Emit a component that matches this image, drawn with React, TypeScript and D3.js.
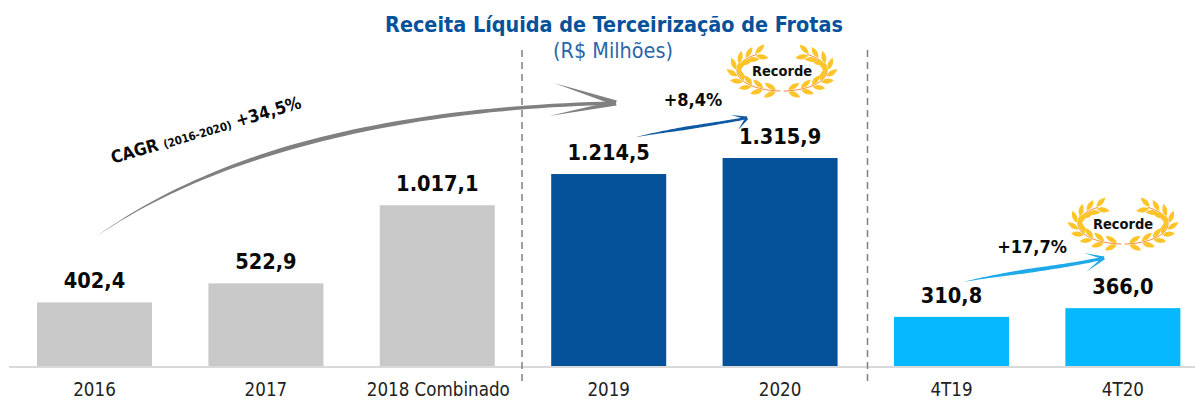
import React from 'react';
import * as d3 from 'd3';

const categories = ['2016', '2017', '2018 Combinado', '2019', '2020', '4T19', '4T20'];
const values = [402.4, 522.9, 1017.1, 1214.5, 1315.9, 310.8, 366.0];
const valueLabels = ['402,4', '522,9', '1.017,1', '1.214,5', '1.315,9', '310,8', '366,0'];
const barColors = ['#c9c9c9', '#c9c9c9', '#c9c9c9', '#05529b', '#05529b', '#06b8ff', '#06b8ff'];

const WIDTH = 1195;
const HEIGHT = 400;
const BASE = 366;
const FONT = "'DejaVu Sans Condensed', 'DejaVu Sans', sans-serif";

const x = d3.scaleBand().domain(categories).range([37, 1180.4]).paddingInner(0.329).paddingOuter(0);
const y = d3.scaleLinear().domain([0, 1315.9]).range([BASE, 158]);

type Pt = [number, number];

const polygon = d3.line().curve(d3.curveLinearClosed);

function cubic(p: Pt[], t: number): Pt {
  const u = 1 - t;
  const a = u * u * u, b = 3 * u * u * t, c = 3 * u * t * t, d = t * t * t;
  return [a * p[0][0] + b * p[1][0] + c * p[2][0] + d * p[3][0], a * p[0][1] + b * p[1][1] + c * p[2][1] + d * p[3][1]];
}

// tapered brush-like shaft from a bezier centre line
function shaft(p: Pt[], width: (t: number) => number) {
  const ts = d3.range(0, 1.001, 0.02);
  const pts = ts.map(t => cubic(p, t));
  const left: Pt[] = [];
  const right: Pt[] = [];
  pts.forEach((q, i) => {
    const a = pts[Math.max(0, i - 1)];
    const b = pts[Math.min(pts.length - 1, i + 1)];
    const dx = b[0] - a[0], dy = b[1] - a[1];
    const len = Math.hypot(dx, dy) || 1;
    const w = width(ts[i]) / 2;
    left.push([q[0] - (dy / len) * w, q[1] + (dx / len) * w]);
    right.push([q[0] + (dy / len) * w, q[1] - (dx / len) * w]);
  });
  return polygon(left.concat(right.reverse())) as string;
}

function barb(from: Pt, tip: Pt, w: number) {
  const dx = tip[0] - from[0], dy = tip[1] - from[1];
  const len = Math.hypot(dx, dy);
  const nx = (-dy / len) * w / 2, ny = (dx / len) * w / 2;
  return polygon([from, [tip[0] + nx, tip[1] + ny], tip, [tip[0] - nx, tip[1] - ny]]) as string;
}

function Arrow({ curve, barbs, color, w, barbW }: { curve: Pt[]; barbs: Pt[]; color: string; w: number; barbW: number }) {
  const tip = curve[3];
  return (
    <g fill={color}>
      <path d={shaft(curve, t => w * Math.min(1, t * 2.2 + 0.02) * (1 - 0.4 * t))} />
      {barbs.map((b, i) => <path key={i} d={barb(b, tip, barbW)} />)}
    </g>
  );
}

function Laurel({ cx, cy }: { cx: number; cy: number }) {
  const rx = 45;
  const ry = 20;
  const angles = d3.range(8, 156, 17);
  const stem = d3.range(2, 150, 4).map(a => {
    const r = (a * Math.PI) / 180;
    return [Math.sin(r) * rx, Math.cos(r) * ry] as Pt;
  });
  const line = d3.line();
  const side = angles.flatMap((a, i) => {
    const r = (a * Math.PI) / 180;
    const px = Math.sin(r) * rx;
    const py = Math.cos(r) * ry;
    // tangent heading towards the top of the wreath
    const tx = Math.cos(r) * rx, ty = -Math.sin(r) * ry;
    const len = Math.hypot(tx, ty);
    const deg = (Math.atan2(ty, tx) * 180) / Math.PI;
    return [-1, 1].map(s => {
      const tilt = deg + s * 28;
      return (
        <path
          key={`${i}${s}`}
          transform={`translate(${px + (s * -ty) / len},${py + (s * tx) / len}) rotate(${tilt})`}
          d="M0,0 Q6,-5 13,0 Q6,5 0,0Z"
          fill="#fdc529"
        />
      );
    });
  });
  return (
    <g transform={`translate(${cx},${cy + 1})`}>
      {[1, -1].map(s => (
        <g key={s} transform={`scale(${s},1)`}>
          <path d={line(stem) as string} fill="none" stroke="#f58b3e" strokeWidth={1} />
          {side}
        </g>
      ))}
      <text y={5} textAnchor="middle" fontFamily={FONT} fontWeight="bold" fontSize={14.5} fill="#111">Recorde</text>
    </g>
  );
}

export default function App() {
  return (
    <svg width={WIDTH} height={HEIGHT} style={{ position: 'absolute', left: 0, top: 0, background: '#fff' }}>
      <text x={614} y={32} textAnchor="middle" fontFamily={FONT} fontWeight="bold" fontSize={21.4} fill="#05529b">
        Receita Líquida de Terceirização de Frotas
      </text>
      <text x={613} y={58} textAnchor="middle" fontFamily={FONT} fontSize={21.4} fill="#2a66a8">(R$ Milhões)</text>

      {categories.map((c, i) => (
        <rect key={c} x={x(c)} y={y(values[i])} width={x.bandwidth()} height={BASE - y(values[i])} fill={barColors[i]} />
      ))}
      <line x1={9} x2={WIDTH} y1={367} y2={367} stroke="#d9d9d9" strokeWidth={2} />

      {[522, 867.5].map(d => (
        <line key={d} x1={d} x2={d} y1={50} y2={385} stroke="#808080" strokeWidth={1.5} strokeDasharray="7 5" />
      ))}

      {categories.map((c, i) => (
        <text key={c} x={(x(c) as number) + x.bandwidth() / 2 + (i === 2 ? 1 : 0)} y={395.5} textAnchor="middle" fontFamily={FONT} fontSize={18.6} fill="#222">
          {c}
        </text>
      ))}
      {categories.map((c, i) => (
        <text
          key={c}
          x={(x(c) as number) + x.bandwidth() / 2}
          y={y(values[i]) - 14}
          textAnchor="middle"
          fontFamily={FONT}
          fontWeight="bold"
          fontSize={21.6}
          fill="#0a0a0a"
        >
          {valueLabels[i]}
        </text>
      ))}

      <Arrow curve={[[97, 236], [220, 150], [400, 108], [616, 103]]} barbs={[[554, 83], [549, 116]]} color="#808080" w={5.5} barbW={5} />
      <Arrow curve={[[636, 137], [670, 130], [710, 125], [747, 118]]} barbs={[[731, 115], [738, 130]]} color="#0f5aa3" w={4} barbW={3} />
      <Arrow curve={[[963, 282], [1010, 272], [1060, 268], [1104, 258]]} barbs={[[1084, 253], [1086, 272]]} color="#1ea9e8" w={5} barbW={3} />

      <g transform="rotate(-16.5 206 130)" fontFamily={FONT} fontWeight="bold" fill="#0a0a0a">
        <text x={206} y={136} textAnchor="middle" fontSize={17.4}>
          CAGR <tspan fontSize={11.4}>(2016-2020)</tspan> +34,5%
        </text>
      </g>
      <text x={693} y={106} textAnchor="middle" fontFamily={FONT} fontWeight="bold" fontSize={18} fill="#0a0a0a">+8,4%</text>
      <text x={1032} y={253} textAnchor="middle" fontFamily={FONT} fontWeight="bold" fontSize={18} fill="#0a0a0a">+17,7%</text>

      <Laurel cx={782} cy={70} />
      <Laurel cx={1123} cy={223} />
    </svg>
  );
}
